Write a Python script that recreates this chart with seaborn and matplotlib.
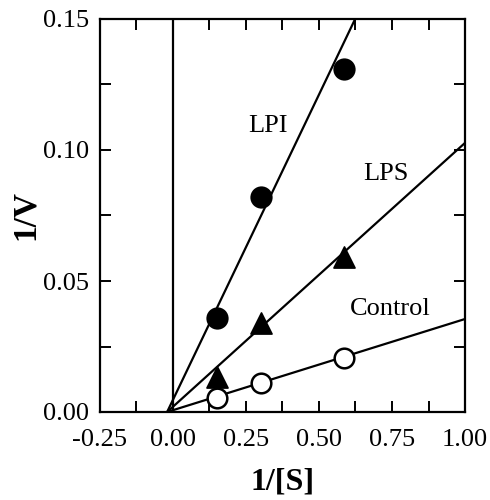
import numpy as np
import pandas as pd
import matplotlib
matplotlib.use("Agg")
import matplotlib.pyplot as plt
from matplotlib.ticker import MultipleLocator, FormatStrFormatter
import seaborn as sns

# Lineweaver-Burk data
inv_s = [0.15, 0.30, 0.585]
lpi = [0.036, 0.082, 0.131]
lps = [0.0135, 0.034, 0.059]
control = [0.0055, 0.011, 0.0205]

# fitted lines: common x intercept and slopes
x_icept = -0.02
slope_lpi = 0.233
slope_lps = 0.1007
slope_control = 0.0348

sns.set_style("ticks", {"axes.edgecolor": "black", "text.color": "black",
                        "axes.labelcolor": "black", "xtick.color": "black",
                        "ytick.color": "black"})
plt.rcParams["font.family"] = ["Liberation Serif", "DejaVu Serif"]

fig = plt.figure(figsize=(4.9, 5.0), dpi=100)
ax = fig.add_axes([0.204, 0.176, 0.745, 0.786])

xline = np.linspace(x_icept, 1.0, 200)
for slope in [slope_lpi, slope_lps, slope_control]:
    yline = slope * (xline - x_icept)
    sns.lineplot(x=xline, y=yline, ax=ax, color="black", lw=1.6, zorder=2)

ax.axvline(0, color="black", lw=1.6, zorder=1)

sns.scatterplot(x=inv_s, y=lpi, ax=ax, marker="o", s=220, color="black",
                edgecolor="black", zorder=3)
sns.scatterplot(x=inv_s, y=lps, ax=ax, marker="^", s=230, color="black",
                edgecolor="black", zorder=3)
sns.scatterplot(x=inv_s, y=control, ax=ax, marker="o", s=200, facecolor="white",
                edgecolor="black", linewidth=1.8, zorder=3)

ax.text(0.325, 0.109, "LPI", fontsize=19, ha="center", va="center")
ax.text(0.73, 0.091, "LPS", fontsize=19, ha="center", va="center")
ax.text(0.745, 0.0393, "Control", fontsize=19, ha="center", va="center")

ax.set_xlim(-0.25, 1.0)
ax.set_ylim(0, 0.15)
ax.xaxis.set_major_locator(MultipleLocator(0.25))
ax.xaxis.set_minor_locator(MultipleLocator(0.125))
ax.yaxis.set_major_locator(MultipleLocator(0.05))
ax.yaxis.set_minor_locator(MultipleLocator(0.025))
ax.xaxis.set_major_formatter(FormatStrFormatter("%.2f"))
ax.yaxis.set_major_formatter(FormatStrFormatter("%.2f"))
ax.tick_params(which="both", direction="in", top=True, right=True,
               length=8, width=1.4, labelsize=19, colors="black")
ax.tick_params(axis="x", pad=12)
ax.tick_params(axis="y", pad=8)
for sp in ax.spines.values():
    sp.set_linewidth(1.6)
    sp.set_color("black")

ax.set_xlabel("1/[S]", fontsize=23, fontweight="bold")
ax.set_ylabel("1/V", fontsize=24, fontweight="bold")
ax.xaxis.set_label_coords(0.5, -0.178)
ax.yaxis.set_label_coords(-0.205, 0.5)
ax.xaxis.label.set_va("center")
ax.yaxis.label.set_va("center")

fig.savefig("out.png", dpi=100)
